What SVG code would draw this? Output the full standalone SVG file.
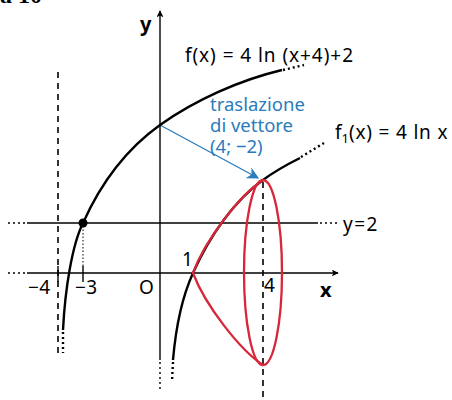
<svg xmlns="http://www.w3.org/2000/svg" width="452" height="400" viewBox="0 0 452 400">
<style>
  .ax{stroke:#000;stroke-width:1.4;fill:none}
  .dot{stroke-dasharray:2 3}
  .dash{stroke:#000;stroke-width:1.6;stroke-dasharray:6 5;fill:none}
  .cur{stroke:#000;stroke-width:2.4;fill:none}
  .red{stroke:#d6283a;stroke-width:2.3;fill:none}
  .t{font-family:"Noto Sans","Open Sans",sans-serif;font-size:19px;fill:#000}
  .b{font-weight:bold;font-size:20px}
  .blue{fill:#2a7cbc;font-size:18.5px}
</style>
<defs>
  <marker id="ah" viewBox="0 0 10 10" refX="9" refY="5" markerWidth="7" markerHeight="7" orient="auto" markerUnits="userSpaceOnUse">
    <path d="M0,0 L10,5 L0,10 L2.5,5 Z" fill="#000"/>
  </marker>
  <marker id="bh" viewBox="0 0 10 10" refX="9" refY="5" markerWidth="12" markerHeight="12" orient="auto" markerUnits="userSpaceOnUse">
    <path d="M0,0 L10,5 L0,10 L3,5 Z" fill="#2a7cbc"/>
  </marker>
</defs>
<text x="0" y="3" font-family="Liberation Serif,serif" font-weight="bold" font-size="24">a 10</text>
<g id="axes">
  <line class="ax" x1="27" y1="273" x2="338" y2="273" marker-end="url(#ah)"/>
  <line class="ax dot" x1="8" y1="273" x2="26" y2="273"/>
  <line class="ax" x1="160" y1="360" x2="160" y2="11" marker-end="url(#ah)"/>
  <line class="ax dot" x1="160" y1="362" x2="160" y2="392"/>
  <line class="ax" x1="58" y1="266" x2="58" y2="282"/>
  <line class="ax" x1="83" y1="266" x2="83" y2="282"/>
</g>
<g id="connectors">
  <line class="ax" x1="27" y1="223" x2="318" y2="223"/>
  <line class="ax dot" x1="8" y1="223" x2="26" y2="223"/>
  <line class="ax dot" x1="320" y1="223" x2="338" y2="223"/>
  <line class="dash" x1="58" y1="72" x2="58" y2="354"/>
  <line class="dash" x1="263" y1="182" x2="263" y2="400"/>
  <line stroke="#000" stroke-width="1" stroke-dasharray="1.5 2" x1="83" y1="226" x2="83" y2="266"/>
  <line stroke="#2a7cbc" stroke-width="1.3" x1="160" y1="125" x2="258" y2="178" marker-end="url(#bh)"/>
</g>
<g id="f">
  <path class="cur" d="M63,330 C65,290 72,245 83,223 C100,185 125,150 160,125 C195,100 240,80 282,70"/>
  <path class="cur dot" d="M283,70 L304,65"/>
  <path class="cur dot" d="M63,332 L63,353"/>
  <circle cx="83" cy="223" r="4.5" fill="#000"/>
</g>
<g id="f1">
  <path class="cur" d="M173,360 C176,325 183,295 193,273 C210,235 235,200 263,180 C275,171 288,164 300,158"/>
  <path class="cur dot" d="M301,157 L324,143"/>
  <path class="cur dot" d="M173,362 L172,381"/>
</g>
<g id="red">
  <path class="red" d="M263,180 C240,195 205,240 193,273 C205,305 240,350 263,365"/>
  <ellipse class="red" cx="263" cy="272.5" rx="19" ry="92.5"/>
</g>
<g id="labels">
  <text class="t b" x="140" y="31">y</text>
  <text class="t b" x="320" y="297">x</text>
  <text class="t" x="185" y="62" textLength="168" lengthAdjust="spacing">f(x) = 4 ln (x+4)+2</text>
  <text class="t" x="335" y="139">f<tspan font-size="13" dy="4">1</tspan><tspan dy="-4" letter-spacing="0.8">(x) = 4 ln x</tspan></text>
  <text class="t" x="343" y="231" letter-spacing="1.5">y=2</text>
  <text class="t" x="28" y="294" letter-spacing="0.5">−4</text>
  <text class="t" x="75" y="294" letter-spacing="0.5">−3</text>
  <text class="t" x="139" y="294">O</text>
  <text class="t" x="182" y="266">1</text>
  <text class="t" x="264" y="292">4</text>
  <text class="t blue"><tspan x="210" y="111">traslazione</tspan><tspan x="210" y="132">di vettore</tspan><tspan x="210" y="153">(4; −2)</tspan></text>
</g>
</svg>
